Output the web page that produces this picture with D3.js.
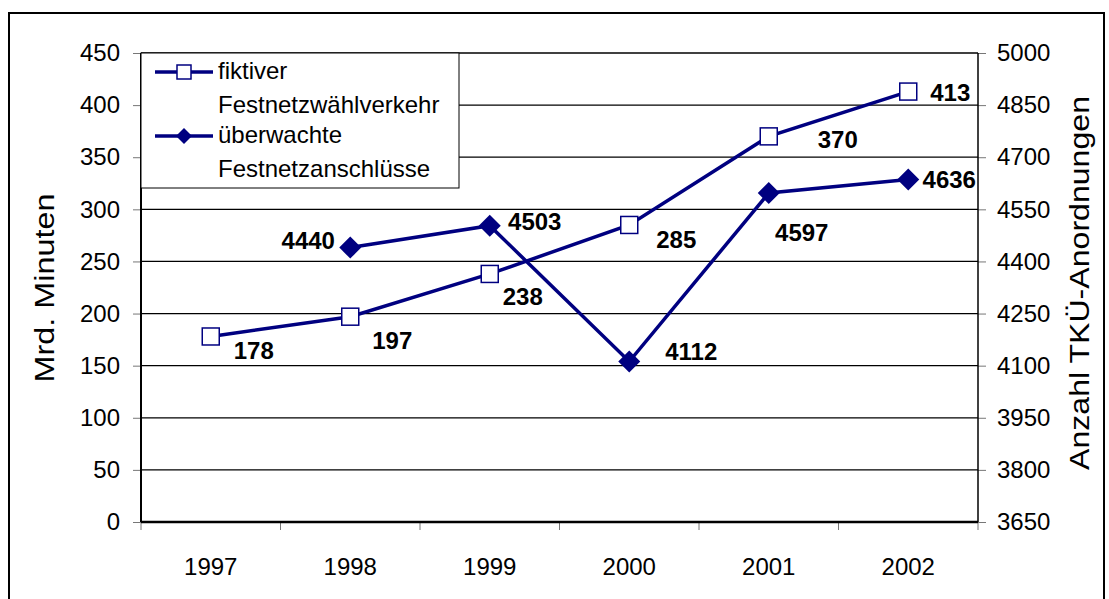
<!DOCTYPE html>
<html lang="de">
<head>
<meta charset="UTF-8">
<title>Festnetz TKÜ</title>
<script src="https://d3js.org/d3.v7.min.js"></script>
<style>
  body { margin: 0; background: #fff; }
  svg { display: block; font-family: Arial, "Liberation Sans", sans-serif; }
</style>
</head>
<body>
<div id="chart"></div>
<script>
// data
const years = ["1997", "1998", "1999", "2000", "2001", "2002"];
const minuten = [178, 197, 238, 285, 370, 413];          // fiktiver Festnetzwählverkehr (left axis)
const anordnungen = [null, 4440, 4503, 4112, 4597, 4636]; // überwachte Festnetzanschlüsse (right axis)
const leftTicks = [0, 50, 100, 150, 200, 250, 300, 350, 400, 450];
const rightTicks = [3650, 3800, 3950, 4100, 4250, 4400, 4550, 4700, 4850, 5000];
const seriesNames = [["fiktiver", "Festnetzwählverkehr"], ["überwachte", "Festnetzanschlüsse"]];

// label offsets (dx, dy of label centre relative to marker), Excel put them a bit all over the place
const offMin = [[43, 14], [42, 24], [33, 23], [47, 15], [69, 3], [42, 1]];
const offAnz = [null, [-42, -7], [45, -4], [62, -10], [33, 39], [41, 0]];

const W = 1109, H = 599;
const m = { left: 141, right: 978, top: 53, bottom: 522 };
const navy = "#000080";

const svg = d3.select("#chart").append("svg").attr("width", W).attr("height", H);

// outer frame (left, top, right)
svg.append("path")
  .attr("d", `M9,${H} V13 H1104 V${H}`)
  .attr("fill", "none").attr("stroke", "#000").attr("stroke-width", 2);

const x = d3.scaleBand().domain(years).range([m.left, m.right]).padding(0);
const yL = d3.scaleLinear().domain([0, 450]).range([m.bottom, m.top]);
const yR = d3.scaleLinear().domain([3650, 5000]).range([m.bottom, m.top]);

// gridlines
svg.append("g").selectAll("line").data(leftTicks.slice(1)).join("line")
  .attr("x1", m.left).attr("x2", m.right)
  .attr("y1", d => yL(d)).attr("y2", d => yL(d))
  .attr("stroke", "#000").attr("stroke-width", 1.3);

// left axis
const gL = svg.append("g").attr("transform", `translate(${m.left},0)`)
  .call(d3.axisLeft(yL).tickValues(leftTicks).tickSize(8).tickPadding(13));
gL.select(".domain").remove();
gL.selectAll(".tick line").attr("stroke", "#777");
gL.selectAll(".tick text").attr("font-size", 24).attr("fill", "#000");

// right axis
const gR = svg.append("g").attr("transform", `translate(${m.right},0)`)
  .call(d3.axisRight(yR).tickValues(rightTicks).tickFormat(d3.format("d")).tickSize(8).tickPadding(11));
gR.select(".domain").remove();
gR.selectAll(".tick line").attr("stroke", "#777");
gR.selectAll(".tick text").attr("font-size", 24).attr("fill", "#000");

// category ticks at boundaries
const bounds = years.map(d => x(d)).concat([m.right]);
svg.append("g").selectAll("line").data(bounds).join("line")
  .attr("x1", d => d).attr("x2", d => d)
  .attr("y1", m.bottom).attr("y2", m.bottom + 8)
  .attr("stroke", "#777");
svg.append("g").selectAll("text").data(years).join("text")
  .attr("x", d => x(d) + x.bandwidth() / 2).attr("y", 566)
  .attr("text-anchor", "middle").attr("dominant-baseline", "central")
  .attr("font-size", 24).text(d => d);

// axis lines
svg.append("line").attr("x1", m.left).attr("x2", m.left).attr("y1", m.top).attr("y2", m.bottom)
  .attr("stroke", "#000").attr("stroke-width", 2);
svg.append("line").attr("x1", m.left).attr("x2", m.right).attr("y1", m.bottom).attr("y2", m.bottom)
  .attr("stroke", "#000").attr("stroke-width", 2.5);
svg.append("line").attr("x1", m.right).attr("x2", m.right).attr("y1", m.top).attr("y2", m.bottom)
  .attr("stroke", "#000").attr("stroke-width", 1.5);

// axis titles
svg.append("text").attr("transform", "translate(45,288) rotate(-90)")
  .attr("text-anchor", "middle").attr("dominant-baseline", "central")
  .attr("font-size", 27).attr("textLength", 189).attr("lengthAdjust", "spacingAndGlyphs")
  .text("Mrd. Minuten");
svg.append("text").attr("transform", "translate(1080,283) rotate(-90)")
  .attr("text-anchor", "middle").attr("dominant-baseline", "central")
  .attr("font-size", 27).attr("textLength", 374).attr("lengthAdjust", "spacingAndGlyphs")
  .text("Anzahl TKÜ-Anordnungen");

const cx = d => x(d) + x.bandwidth() / 2;
const ptsMin = years.map((yr, i) => ({ yr, v: minuten[i], px: cx(yr), py: yL(minuten[i]), off: offMin[i] }));
const ptsAnz = years.map((yr, i) => ({ yr, v: anordnungen[i], off: offAnz[i] }))
  .filter(d => d.v != null)
  .map(d => ({ ...d, px: cx(d.yr), py: yR(d.v) }));

const line = d3.line().x(d => d.px).y(d => d.py);
const diamond = s => `M0,${-s} L${s},0 L0,${s} L${-s},0 Z`;

// series lines
svg.append("path").datum(ptsMin).attr("d", line)
  .attr("fill", "none").attr("stroke", navy).attr("stroke-width", 3.5);
svg.append("path").datum(ptsAnz).attr("d", line)
  .attr("fill", "none").attr("stroke", navy).attr("stroke-width", 3.5);

// markers
svg.append("g").selectAll("rect").data(ptsMin).join("rect")
  .attr("x", d => d.px - 8.5).attr("y", d => d.py - 8.5).attr("width", 17).attr("height", 17)
  .attr("fill", "#fff").attr("stroke", navy).attr("stroke-width", 1.5);
svg.append("g").selectAll("path").data(ptsAnz).join("path")
  .attr("transform", d => `translate(${d.px},${d.py})`)
  .attr("d", diamond(11)).attr("fill", navy);

// data labels
const labels = ptsMin.concat(ptsAnz);
svg.append("g").selectAll("text").data(labels).join("text")
  .attr("x", d => d.px + d.off[0]).attr("y", d => d.py + d.off[1])
  .attr("text-anchor", "middle").attr("dominant-baseline", "central")
  .attr("font-size", 24).attr("font-weight", "bold").text(d => d.v);

// legend
const lg = svg.append("g");
lg.append("rect").attr("x", m.left).attr("y", m.top).attr("width", 318).attr("height", 135)
  .attr("fill", "#fff").attr("stroke", "#000").attr("stroke-width", 1);
const rows = [{ y: 72, name: seriesNames[0], kind: "sq" }, { y: 136, name: seriesNames[1], kind: "dm" }];
rows.forEach(r => {
  lg.append("line").attr("x1", 155).attr("x2", 213).attr("y1", r.y).attr("y2", r.y)
    .attr("stroke", navy).attr("stroke-width", 3.5);
  if (r.kind === "sq") {
    lg.append("rect").attr("x", 177).attr("y", r.y - 7).attr("width", 14).attr("height", 14)
      .attr("fill", "#fff").attr("stroke", navy).attr("stroke-width", 1.5);
  } else {
    lg.append("path").attr("transform", `translate(184,${r.y})`).attr("d", diamond(8)).attr("fill", navy);
  }
  lg.append("text").attr("x", 218).attr("y", r.y - 2).attr("dominant-baseline", "central")
    .attr("font-size", 24).text(r.name[0]);
  lg.append("text").attr("x", 218).attr("y", r.y + 32).attr("dominant-baseline", "central")
    .attr("font-size", 24).text(r.name[1]);
});
</script>
</body>
</html>
